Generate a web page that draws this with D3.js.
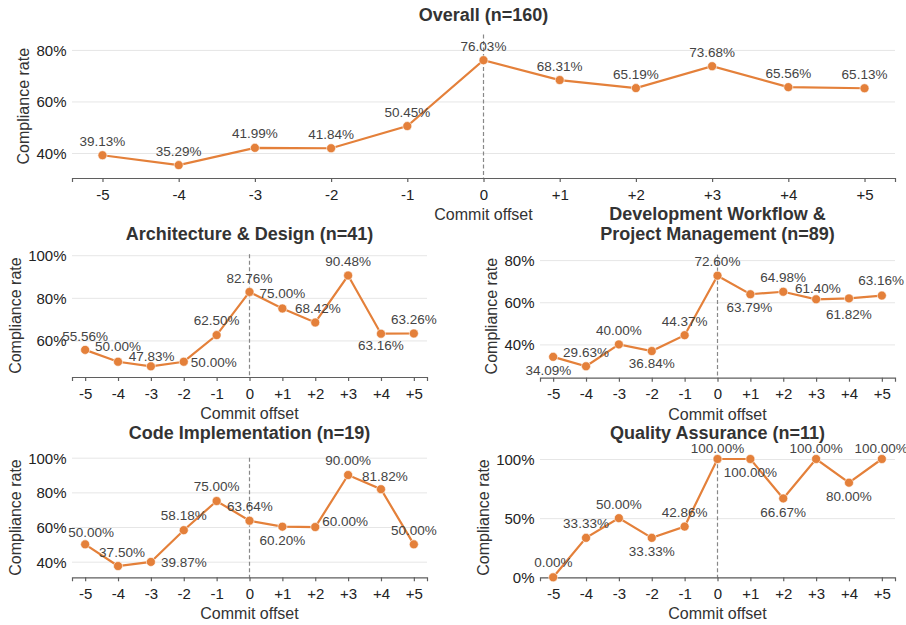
<!DOCTYPE html>
<html>
<head>
<meta charset="utf-8">
<script src="https://cdn.jsdelivr.net/npm/d3@7"></script>
<style>
  body { margin: 0; background: #fff; }
  svg { font-family: "Liberation Sans", Arial, sans-serif; }
  .grid line { stroke: #e6e6e6; stroke-width: 1; }
  .grid path { display: none; }
  .x.axis path, .x.axis line { stroke: #5f5f5f; stroke-width: 1.2; }
  .x.axis text { fill: #222; font-size: 15px; }
  .y.axis path, .y.axis line { display: none; }
  .y.axis text { fill: #222; font-size: 15px; }
</style>
</head>
<body>
<script>

// commit offsets on the x axis
var offsets = ["-5", "-4", "-3", "-2", "-1", "0", "+1", "+2", "+3", "+4", "+5"];

// compliance rate (%) per offset
var overallRates = [39.13, 35.29, 41.99, 41.84, 50.45, 76.03, 68.31, 65.19, 73.68, 65.56, 65.13];
var archRates    = [55.56, 50.00, 47.83, 50.00, 62.50, 82.76, 75.00, 68.42, 90.48, 63.16, 63.26];
var devRates     = [34.09, 29.63, 40.00, 36.84, 44.37, 72.60, 63.79, 64.98, 61.40, 61.82, 63.16];
var codeRates    = [50.00, 37.50, 39.87, 58.18, 75.00, 63.64, 60.20, 60.00, 90.00, 81.82, 50.00];
var qaRates      = [0.00, 33.33, 50.00, 33.33, 42.86, 100.00, 100.00, 66.67, 100.00, 80.00, 100.00];

// y tick labels per panel
var overallTicks = [40, 60, 80];
var archTicks    = [60, 80, 100];
var devTicks     = [40, 60, 80];
var codeTicks    = [40, 60, 80, 100];
var qaTicks      = [0, 50, 100];

// panel titles
var overallTitle = ["Overall (n=160)"];
var archTitle    = ["Architecture & Design (n=41)"];
var devTitle     = ["Development Workflow &", "Project Management (n=89)"];
var codeTitle    = ["Code Implementation (n=19)"];
var qaTitle      = ["Quality Assurance (n=11)"];

// layout: where each value label sits relative to its point [dx, dy]
var up = [0, -14.3];
var overallNudge = [up, up, up, up, up, up, up, up, up, up, up];
var archNudge = [[0,-14], [0,-16], [0.7,-10.3], [30,0], [0,-15], [0,-14], [0,-15], [2.7,-14.4], [0,-14], [0,11.7], [0,-14.3]];
var devNudge  = [[-4.7,13.3], up, up, [0,12.3], up, up, [-1,13], up, [1.7,-11.3], [0,16], [-0.7,-15.3]];
var codeNudge = [[6,-12.7], [4,-14.3], [33,0.7], [0,-14.7], [0,-15], [0.4,-14.3], [0,13.7], [30,-5.7], [0,-15], [4,-13.3], [0,-14]];
var qaNudge   = [[0.3,-14.7], up, up, [0,13.3], up, [0,-11.3], [0,13.3], [0,13.3], [0,-11.3], [0,13], [-0.7,-11.3]];

var width = 906, height = 625;

var svg = d3.select("body")
    .append("svg")
    .attr("width", width)
    .attr("height", height);

var panels = [
  {title: overallTitle, rates: overallRates, ticks: overallTicks, nudge: overallNudge,
   domain: [30.29, 86.03], left: 72, right: 895, top: 34.4, bottom: 178, titleY: 21, ylabX: 23.3},
  {title: archTitle, rates: archRates, ticks: archTicks, nudge: archNudge,
   domain: [42.83, 100.48], left: 72, right: 427, top: 254.2, bottom: 377, titleY: 240, ylabX: 15},
  {title: devTitle, rates: devRates, ticks: devTicks, nudge: devNudge,
   domain: [24.2, 82.6], left: 540, right: 895, top: 254.6, bottom: 377.7, titleY: 220, ylabX: 491.3},
  {title: codeTitle, rates: codeRates, ticks: codeTicks, nudge: codeNudge,
   domain: [31, 100], left: 72, right: 427, top: 457.7, bottom: 577.3, titleY: 439, ylabX: 15},
  {title: qaTitle, rates: qaRates, ticks: qaTicks, nudge: qaNudge,
   domain: [0, 101.1], left: 540, right: 895, top: 457.7, bottom: 577.3, titleY: 439, ylabX: 483}
];

panels.forEach(drawPanel);

function drawPanel(p) {
  var x = d3.scalePoint().domain(offsets).range([p.left, p.right]).padding(0.4);
  var y = d3.scaleLinear().domain(p.domain).range([p.bottom, p.top]);

  var g = svg.append("g");

  // horizontal gridlines
  g.append("g")
      .attr("class", "grid")
      .attr("transform", "translate(" + p.left + ",0)")
      .call(d3.axisLeft(y)
          .tickValues(p.ticks)
          .tickSize(-(p.right - p.left))
          .tickFormat(""));

  // y tick labels
  g.append("g")
      .attr("class", "y axis")
      .attr("transform", "translate(" + p.left + ",0)")
      .call(d3.axisLeft(y)
          .tickValues(p.ticks)
          .tickSize(0)
          .tickPadding(5.5)
          .tickFormat(function(d) { return d + "%"; }))
      .selectAll("text").attr("dy", "0.36em");

  // dashed marker at the commit itself
  g.append("line")
      .attr("x1", x("0")).attr("x2", x("0"))
      .attr("y1", p.top).attr("y2", p.bottom)
      .attr("stroke", "#888")
      .attr("stroke-width", 1.2)
      .attr("stroke-dasharray", "4,2.5");

  // bottom axis
  g.append("g")
      .attr("class", "x axis")
      .attr("transform", "translate(0," + p.bottom + ")")
      .call(d3.axisBottom(x).tickSizeOuter(0).tickSize(4).tickPadding(7));

  var pts = offsets.map(function(o, i) { return {off: o, v: p.rates[i], n: p.nudge[i]}; });

  var line = d3.line()
      .x(function(d) { return x(d.off); })
      .y(function(d) { return y(d.v); });

  g.append("path")
      .datum(pts)
      .attr("d", line)
      .attr("fill", "none")
      .attr("stroke", "#e4803a")
      .attr("stroke-width", 2.2);

  g.selectAll(".dot")
      .data(pts)
      .enter().append("circle")
      .attr("class", "dot")
      .attr("cx", function(d) { return x(d.off); })
      .attr("cy", function(d) { return y(d.v); })
      .attr("r", 4.5)
      .attr("fill", "#e4803a")
      .attr("stroke", "#fff")
      .attr("stroke-width", 0.6);

  // value labels
  g.selectAll(".val")
      .data(pts)
      .enter().append("text")
      .attr("class", "val")
      .attr("x", function(d) { return x(d.off) + d.n[0]; })
      .attr("y", function(d) { return y(d.v) + d.n[1]; })
      .attr("dy", "0.36em")
      .attr("text-anchor", "middle")
      .style("font-size", "13.5px")
      .style("fill", "#444")
      .text(function(d) { return d.v.toFixed(2) + "%"; });

  // title
  var cx = (p.left + p.right) / 2;
  g.append("text")
      .attr("text-anchor", "middle")
      .style("font-size", "18px")
      .style("font-weight", "bold")
      .style("fill", "#333")
      .selectAll("tspan")
      .data(p.title)
      .enter().append("tspan")
      .attr("x", cx)
      .attr("y", function(d, i) { return p.titleY + i * 19.5; })
      .text(function(d) { return d; });

  // axis labels
  g.append("text")
      .attr("x", cx)
      .attr("y", p.bottom + 42)
      .attr("text-anchor", "middle")
      .style("font-size", "16px")
      .style("fill", "#333")
      .text("Commit offset");

  g.append("text")
      .attr("transform", "translate(" + p.ylabX + "," + (p.top + p.bottom) / 2 + ") rotate(-90)")
      .attr("dy", "0.35em")
      .attr("text-anchor", "middle")
      .style("font-size", "16px")
      .style("fill", "#333")
      .text("Compliance rate");
}

</script>
</body>
</html>
